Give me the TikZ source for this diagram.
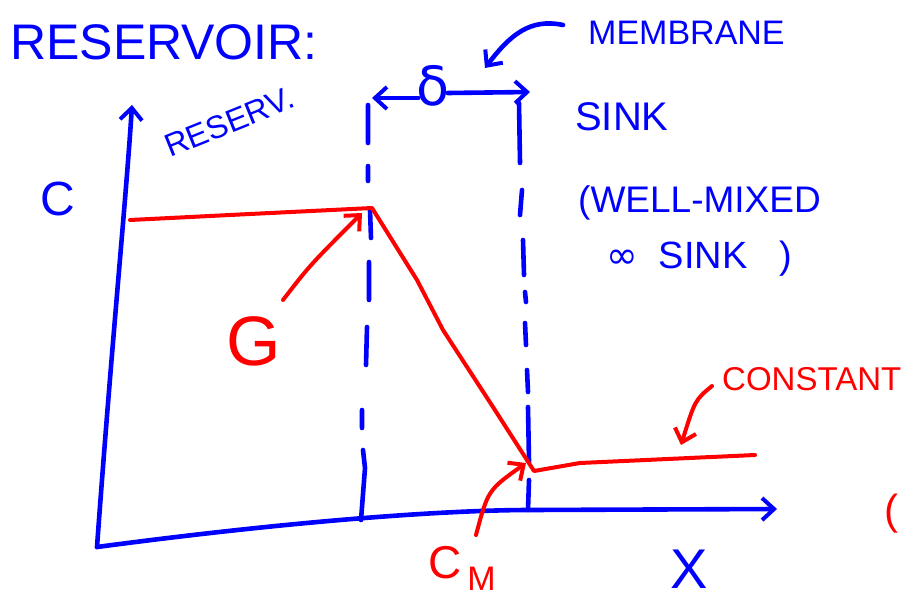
\documentclass[tikz,border=0pt]{standalone}
\usepackage{fontspec}
\setmainfont{Liberation Sans}
\newfontfamily\dejavu{DejaVu Sans}
\usetikzlibrary{arrows.meta}
\definecolor{bluepen}{RGB}{0,0,255}
\definecolor{redpen}{RGB}{255,0,0}
\newcommand{\fs}[1]{\fontsize{#1}{#1}\selectfont}
\begin{document}
\begin{tikzpicture}[x=1pt,y=-1pt, line cap=round, line join=round,
  bline/.style={draw=bluepen, line width=4.6pt},
  rline/.style={draw=redpen, line width=4pt},
  tip/.style={-{Straight Barb[length=12pt,width=22pt,line width=4pt]}},
  btxt/.style={text=bluepen, inner sep=0pt, anchor=base west},
  rtxt/.style={text=redpen, inner sep=0pt, anchor=base west}]
\useasboundingbox (0,0) rectangle (901,599);
% axes
\coordinate (o) at (97,547);
\coordinate (ytop) at (132,105);
\coordinate (xend) at (777,509);
\draw[bline,tip] (o) .. controls (112,340) and (126,200) .. (ytop);
\draw[bline,tip] (o) .. controls (300,520) and (450,510) .. (530,510) -- (xend);
% dashed membrane boundaries
\draw[bline] (368,105) -- (368,143)  (368,166) -- (368,181)  (370,210) -- (371,238)
  (369,262) -- (369,300)  (367,327) -- (366,365)  (362,410) -- (362,428)
  (363,450) -- (365,468) -- (361,520);
\draw[bline] (519,103) -- (520,163)  (522,190) -- (520,215)  (523,240) -- (524,275)
  (525,292) -- (526,302)  (525,323) -- (526,345)  (527,370) -- (528,392)
  (528,407) -- (529,462)  (529,480) -- (528,510);
% texts
\node[btxt] (title) at (10,60) {\fs{50}RESERVOIR:};
\node[btxt, rotate=22] (reserv) at (170,158) {\fs{32}RESERV.};
\node[btxt] (cy) at (40,215) {\fs{48}C};
\node[btxt] (membrane) at (588,45) {\fs{34}MEMBRANE};
\node[btxt] (sink) at (575,130) {\fs{40}SINK};
\node[btxt] (wm1) at (578,212) {\fs{37}(WELL-MIXED};
\node[btxt] (wm2) at (606,268) {\fs{38}{\dejavu ∞}\ \ SINK\ \ \ )};
\node[btxt] (xlab) at (670,588) {\fs{56}X};
\node[text=bluepen, inner sep=0pt] (delta) at (433,86) {\fs{54}\dejavu δ};
\draw[bline,tip] (delta.west) ++(2,12) -- (372,98);
\draw[bline,tip] (delta.east) ++(-2,7) -- (530,92);
\draw[bline,tip] (563,25) .. controls (530,18) and (510,35) .. (485,68);
% concentration profile
\coordinate (c0) at (130,220);
\coordinate (ci) at (372,208);
\coordinate (cmem) at (534,471);
\coordinate (cend) at (755,455);
\draw[rline] (c0) -- (250,214) -- (ci) -- (417,280) -- (443,330) -- (493,407) -- (cmem)
  -- (580,463) -- (cend);
\node[rtxt] (g) at (226,365) {\fs{70}G};
\node[rtxt] (cmlab) at (428,578) {\fs{46}C\hspace{6pt}\raisebox{-0.5ex}{\fs{34}M}};
\node[rtxt] (const) at (722,390) {\fs{33}CONSTANT};
\node[rtxt] (paren) at (884,524) {\fs{42}(};
\draw[rline,tip] (283,300) .. controls (310,265) .. (362,213);
\draw[rline,tip] (476,535) .. controls (488,490) .. (526,463);
\draw[rline,tip] (712,386) .. controls (695,400) .. (681,445);
\end{tikzpicture}
\end{document}
